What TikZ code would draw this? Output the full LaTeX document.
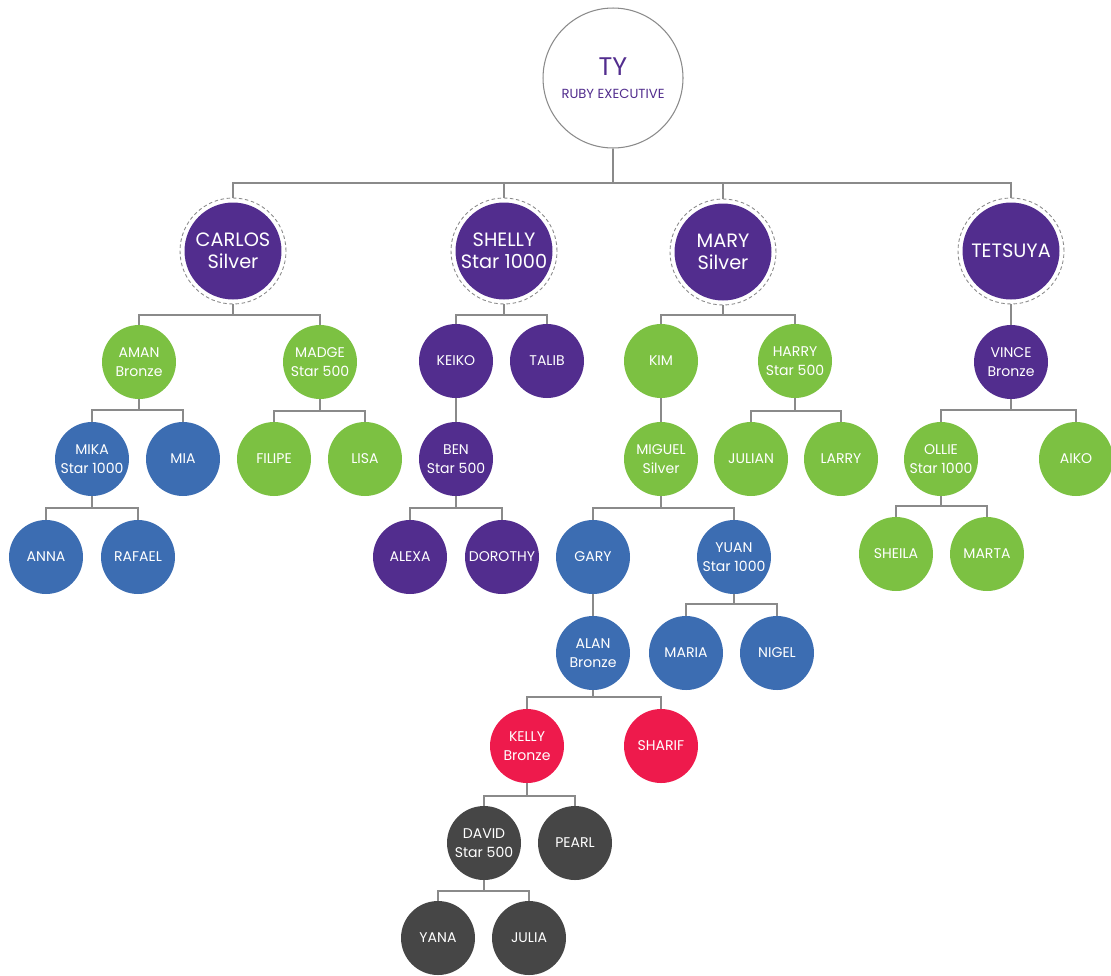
\documentclass[tikz,border=0pt]{standalone}
\usepackage{fontspec}
\setmainfont{Poppins}
\definecolor{rubypurple}{HTML}{522D8E}
\definecolor{rubygreen}{HTML}{7CC142}
\definecolor{rubyblue}{HTML}{3C6DB2}
\definecolor{rubyred}{HTML}{EE1A4C}
\definecolor{rubydark}{HTML}{464646}
\definecolor{linegray}{HTML}{8A8A8A}
\tikzset{
  member/.style={circle, fill=#1, minimum size=1.48cm, inner sep=0pt, text=white,
    align=center, font=\fontsize{8}{10.5}\selectfont},
  lead/.style={circle, minimum size=2.12cm, inner sep=0pt, draw=linegray, line width=0.5pt,
    dash pattern=on 2pt off 1.5pt, text=white, align=center,
    font=\fontsize{11}{12.5}\selectfont,
    path picture={\fill[rubypurple] (path picture bounding box.center) circle (0.97cm);}},
  top/.style={circle, minimum size=2.8cm, inner sep=0pt, draw=linegray, line width=0.6pt,
    fill=white, text=rubypurple, align=center},
  link/.style={draw=linegray, line width=0.6pt},
}
\begin{document}
\begin{tikzpicture}[x=0.02cm, y=-0.02cm]
  \useasboundingbox (0,0) rectangle (1111,975);

  \node[top] (ty) at (613,78) {{\fontsize{14.5}{16}\selectfont TY}\\[1pt]{\fontsize{7.5}{9}\selectfont RUBY EXECUTIVE}};

  % first line
  \node[lead] (carlos) at (233,251) {CARLOS\\Silver};
  \node[lead] (shelly) at (504,251) {SHELLY\\Star 1000};
  \node[lead] (mary) at (723,252) {MARY\\Silver};
  \node[lead] (tetsuya) at (1011,251) {TETSUYA};

  % carlos
  \node[member=rubygreen] (aman) at (139,362) {AMAN\\Bronze};
  \node[member=rubygreen] (madge) at (320,362) {MADGE\\Star 500};
  \node[member=rubyblue] (mika) at (92,459) {MIKA\\Star 1000};
  \node[member=rubyblue] (mia) at (183,459) {MIA};
  \node[member=rubyblue] (anna) at (46,557) {ANNA};
  \node[member=rubyblue] (rafael) at (138,557) {RAFAEL};
  \node[member=rubygreen] (filipe) at (274,459) {FILIPE};
  \node[member=rubygreen] (lisa) at (365,459) {LISA};

  % shelly
  \node[member=rubypurple] (keiko) at (456,361) {KEIKO};
  \node[member=rubypurple] (talib) at (547,361) {TALIB};
  \node[member=rubypurple] (ben) at (456,459) {BEN\\Star 500};
  \node[member=rubypurple] (alexa) at (410,557) {ALEXA};
  \node[member=rubypurple] (dorothy) at (502,557) {DOROTHY};

  % mary
  \node[member=rubygreen] (kim) at (661,361) {KIM};
  \node[member=rubygreen] (harry) at (795,361) {HARRY\\Star 500};
  \node[member=rubygreen] (miguel) at (661,459) {MIGUEL\\Silver};
  \node[member=rubygreen] (julian) at (751,459) {JULIAN};
  \node[member=rubygreen] (larry) at (841,459) {LARRY};
  \node[member=rubyblue] (gary) at (593,557) {GARY};
  \node[member=rubyblue] (yuan) at (734,557) {YUAN\\Star 1000};
  \node[member=rubyblue] (alan) at (593,653) {ALAN\\Bronze};
  \node[member=rubyblue] (maria) at (686,653) {MARIA};
  \node[member=rubyblue] (nigel) at (777,653) {NIGEL};
  \node[member=rubyred] (kelly) at (527,746) {KELLY\\Bronze};
  \node[member=rubyred] (sharif) at (661,746) {SHARIF};
  \node[member=rubydark] (david) at (484,843) {DAVID\\Star 500};
  \node[member=rubydark] (pearl) at (575,843) {PEARL};
  \node[member=rubydark] (yana) at (438,938) {YANA};
  \node[member=rubydark] (julia) at (529,938) {JULIA};

  % tetsuya
  \node[member=rubypurple] (vince) at (1011,362) {VINCE\\Bronze};
  \node[member=rubygreen] (ollie) at (941,459) {OLLIE\\Star 1000};
  \node[member=rubygreen] (aiko) at (1076,459) {AIKO};
  \node[member=rubygreen] (sheila) at (896,554) {SHEILA};
  \node[member=rubygreen] (marta) at (987,554) {MARTA};

  % branch points
  \coordinate (bTy) at (613,183);
  \coordinate (bCarlos) at (233,315);
  \coordinate (bAman) at (139,410);
  \coordinate (bMika) at (92,508);
  \coordinate (bMadge) at (320,411);
  \coordinate (bShelly) at (504,315);
  \coordinate (bBen) at (456,508);
  \coordinate (bMary) at (723,315);
  \coordinate (bHarry) at (795,411);
  \coordinate (bMiguel) at (661,508);
  \coordinate (bYuan) at (734,604);
  \coordinate (bAlan) at (593,697);
  \coordinate (bKelly) at (527,796);
  \coordinate (bDavid) at (484,891);
  \coordinate (bVince) at (1011,410);
  \coordinate (bOllie) at (941,506);

  \draw[link] (ty.south) -- (bTy);
  \foreach \k in {carlos,shelly,mary,tetsuya}
    \draw[link] (bTy) -| (\k.north);

  \draw[link] (carlos.south) -- (bCarlos);
  \foreach \k in {aman,madge} \draw[link] (bCarlos) -| (\k.north);
  \draw[link] (aman.south) -- (bAman);
  \foreach \k in {mika,mia} \draw[link] (bAman) -| (\k.north);
  \draw[link] (mika.south) -- (bMika);
  \foreach \k in {anna,rafael} \draw[link] (bMika) -| (\k.north);
  \draw[link] (madge.south) -- (bMadge);
  \foreach \k in {filipe,lisa} \draw[link] (bMadge) -| (\k.north);

  \draw[link] (shelly.south) -- (bShelly);
  \foreach \k in {keiko,talib} \draw[link] (bShelly) -| (\k.north);
  \draw[link] (keiko) -- (ben);
  \draw[link] (ben.south) -- (bBen);
  \foreach \k in {alexa,dorothy} \draw[link] (bBen) -| (\k.north);

  \draw[link] (mary.south) -- (bMary);
  \foreach \k in {kim,harry} \draw[link] (bMary) -| (\k.north);
  \draw[link] (kim) -- (miguel);
  \draw[link] (harry.south) -- (bHarry);
  \foreach \k in {julian,larry} \draw[link] (bHarry) -| (\k.north);
  \draw[link] (miguel.south) -- (bMiguel);
  \foreach \k in {gary,yuan} \draw[link] (bMiguel) -| (\k.north);
  \draw[link] (gary) -- (alan);
  \draw[link] (yuan.south) -- (bYuan);
  \foreach \k in {maria,nigel} \draw[link] (bYuan) -| (\k.north);
  \draw[link] (alan.south) -- (bAlan);
  \foreach \k in {kelly,sharif} \draw[link] (bAlan) -| (\k.north);
  \draw[link] (kelly.south) -- (bKelly);
  \foreach \k in {david,pearl} \draw[link] (bKelly) -| (\k.north);
  \draw[link] (david.south) -- (bDavid);
  \foreach \k in {yana,julia} \draw[link] (bDavid) -| (\k.north);

  \draw[link] (tetsuya) -- (vince);
  \draw[link] (vince.south) -- (bVince);
  \foreach \k in {ollie,aiko} \draw[link] (bVince) -| (\k.north);
  \draw[link] (ollie.south) -- (bOllie);
  \foreach \k in {sheila,marta} \draw[link] (bOllie) -| (\k.north);
\end{tikzpicture}
\end{document}
